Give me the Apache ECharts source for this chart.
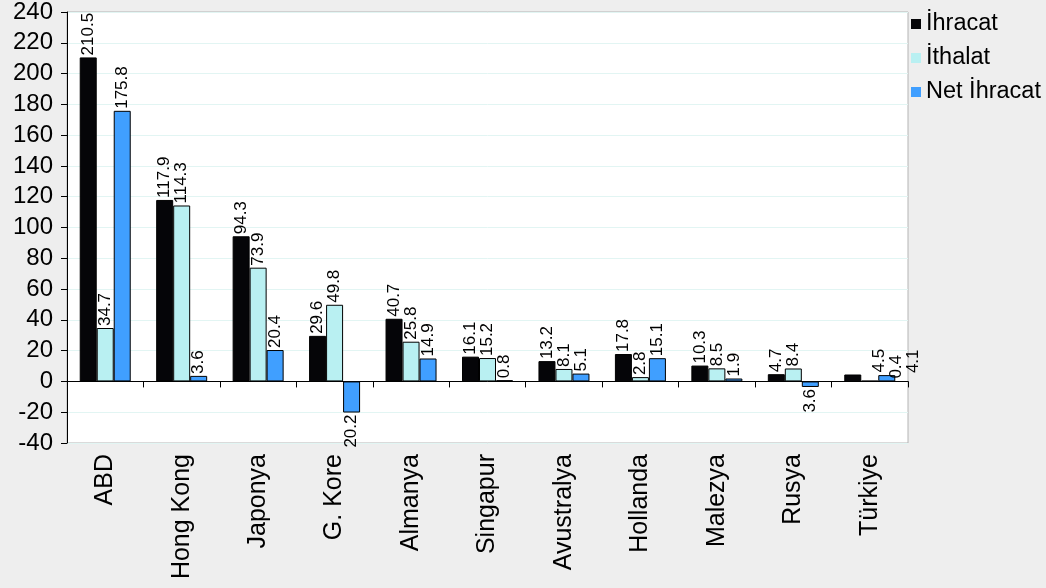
<!DOCTYPE html>
<html>
<head>
<meta charset="utf-8">
<script src="https://cdn.jsdelivr.net/npm/echarts@6/dist/echarts.min.js"></script>
<style>
  html, body { margin: 0; padding: 0; background: #eeeeee; }
  #chart { width: 1046px; height: 588px; }
</style>
</head>
<body>
<div id="chart"></div>
<script>
// Trade figures per country (billion USD)
const categories = ['ABD', 'Hong Kong', 'Japonya', 'G. Kore', 'Almanya', 'Singapur', 'Avustralya', 'Hollanda', 'Malezya', 'Rusya', 'Türkiye'];
const ihracat = [210.5, 117.9, 94.3, 29.6, 40.7, 16.1, 13.2, 17.8, 10.3, 4.7, 4.5];
const ithalat = [34.7, 114.3, 73.9, 49.8, 25.8, 15.2, 8.1, 2.8, 8.5, 8.4, 0.4];
const netIhracat = [175.8, 3.6, 20.4, -20.2, 14.9, 0.8, 5.1, 15.1, 1.9, -3.6, 4.1];
const seriesNames = ['İhracat', 'İthalat', 'Net İhracat'];
const yTicks = { min: -40, max: 240, step: 20 };

const FONT = '"Liberation Sans", Arial, sans-serif';
const colors = ['#050508', '#b9f0f2', '#409fff'];
const shiftedLabelCategory = 'Türkiye';

function toItems(values) {
  return values.map(function (v, i) {
    const lbl = v < 0
      ? { position: 'bottom', align: 'right' }
      : { position: 'top', align: 'left' };
    // label offset is in the rotated text frame: local +y points right
    if (categories[i] === shiftedLabelCategory) lbl.offset = [0, 27];
    return { value: v, label: lbl };
  });
}

function makeSeries(name, values, color) {
  return {
    name: name,
    type: 'bar',
    xAxisIndex: 0,
    barWidth: 17,
    barGap: '0%',
    data: toItems(values),
    itemStyle: { color: color, borderColor: '#000', borderWidth: 1 },
    label: {
      show: true,
      rotate: 90,
      verticalAlign: 'middle',
      distance: 2,
      fontFamily: FONT,
      fontSize: 17,
      color: '#000',
      formatter: function (p) { return String(Math.abs(p.value)); }
    },
    emphasis: { disabled: true }
  };
}

const chart = echarts.init(document.getElementById('chart'), null, { renderer: 'canvas' });
chart.setOption({
  animation: false,
  backgroundColor: '#eeeeee',
  textStyle: { fontFamily: FONT },
  grid: {
    left: 67, right: 138, top: 10, bottom: 145,
    show: true, backgroundColor: '#ffffff', borderColor: '#b4b4b4', borderWidth: 1
  },
  legend: {
    orient: 'vertical',
    left: 911, top: 12, padding: 0,
    itemWidth: 10, itemHeight: 10, itemGap: 10,
    icon: 'rect',
    textStyle: { fontFamily: FONT, fontSize: 23.5, lineHeight: 24, color: '#000' },
    itemStyle: { borderWidth: 0 },
    data: seriesNames
  },
  xAxis: [
    {
      type: 'category',
      data: categories,
      axisLine: { onZero: true, lineStyle: { color: '#000', width: 1 } },
      axisTick: { show: true, length: 6, interval: 0, lineStyle: { color: '#000' } },
      axisLabel: { show: false },
      splitLine: { show: false }
    },
    {
      type: 'category',
      data: categories,
      position: 'bottom',
      axisLine: { show: false, onZero: false },
      axisTick: { show: false },
      axisLabel: {
        show: true, interval: 0, rotate: 90, margin: 11,
        fontFamily: FONT, fontSize: 25, color: '#000'
      },
      splitLine: { show: false }
    }
  ],
  yAxis: {
    type: 'value',
    min: yTicks.min, max: yTicks.max, interval: yTicks.step,
    axisLine: { show: true, lineStyle: { color: '#000', width: 1 } },
    axisTick: { show: true, length: 6, lineStyle: { color: '#000' } },
    axisLabel: { fontFamily: FONT, fontSize: 24, color: '#000', margin: 14 },
    splitLine: { show: true, lineStyle: { color: '#e2f5f3', width: 1 } }
  },
  series: [
    makeSeries(seriesNames[0], ihracat, colors[0]),
    makeSeries(seriesNames[1], ithalat, colors[1]),
    makeSeries(seriesNames[2], netIhracat, colors[2])
  ]
});
</script>
</body>
</html>
